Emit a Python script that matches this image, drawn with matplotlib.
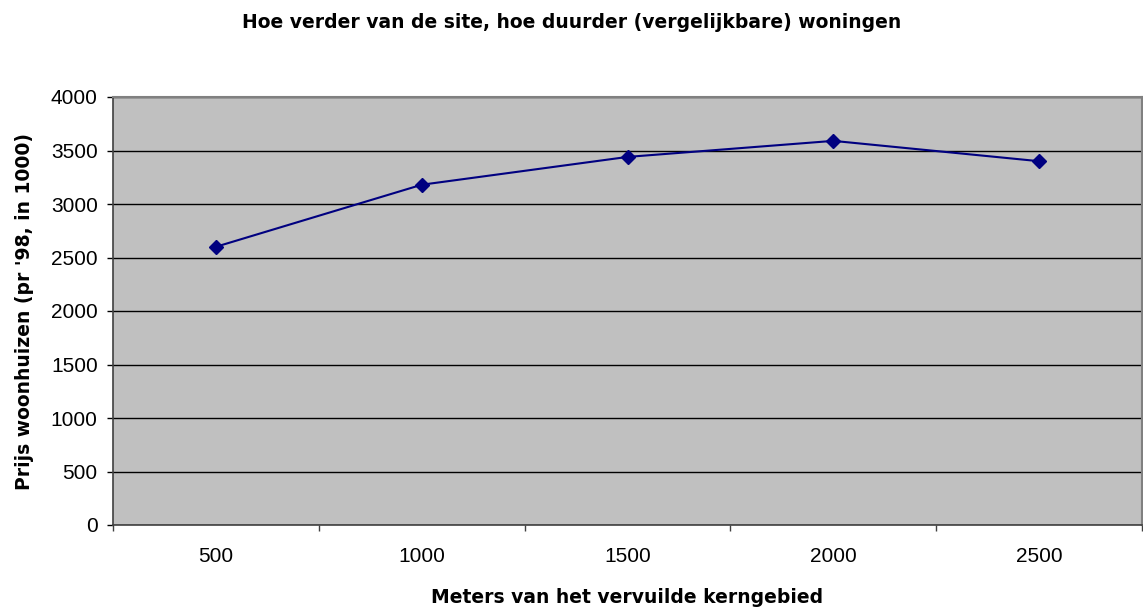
import matplotlib
matplotlib.use("Agg")
from matplotlib import pyplot as plt
from matplotlib.ticker import FixedLocator
import numpy as np

# data
afstand = ["500", "1000", "1500", "2000", "2500"]
prijs = [2600, 3180, 3440, 3590, 3400]
y_ticks = [0, 500, 1000, 1500, 2000, 2500, 3000, 3500, 4000]

plt.rcParams['font.family'] = ['Liberation Sans', 'DejaVu Sans']
bold_font = ['DejaVu Sans']

fig = plt.figure(figsize=(11.43, 6.15), dpi=100)
ax = fig.add_axes([113/1143, 90/615, 1029/1143, 428/615])
ax.set_facecolor('#c0c0c0')

x = np.arange(len(afstand))
ax.plot(x, prijs, color='#000080', linewidth=1.5, marker='D', markersize=7,
        markerfacecolor='#000080', markeredgecolor='#000080', zorder=3)

ax.set_xlim(-0.5, len(afstand) - 0.5)
ax.set_ylim(0, 4000)
ax.set_yticks(y_ticks)
ax.yaxis.grid(True, color='black', linewidth=1)
ax.set_axisbelow(True)

ax.set_xticks(x)
ax.set_xticklabels(afstand)
ax.xaxis.set_minor_locator(FixedLocator(np.arange(-0.5, len(afstand), 1.0)))
ax.tick_params(axis='x', which='major', length=0, pad=16, labelsize=15)
ax.tick_params(axis='x', which='minor', length=4, width=1, color='#404040')
ax.tick_params(axis='y', length=4, width=1, labelsize=15, pad=7)

for side in ['top', 'right']:
    ax.spines[side].set_color('#808080')
    ax.spines[side].set_linewidth(1.5)
for side in ['left', 'bottom']:
    ax.spines[side].set_color('#404040')
    ax.spines[side].set_linewidth(1.2)

ax.set_xlabel("Meters van het vervuilde kerngebied", fontsize=13.5,
              fontweight='bold', family=bold_font, labelpad=16)
ax.set_ylabel("Prijs woonhuizen (pr '98, in 1000)", fontsize=13.5,
              fontweight='bold', family=bold_font, labelpad=12)
fig.text(0.5, 1 - 23/615, "Hoe verder van de site, hoe duurder (vergelijkbare) woningen",
         ha='center', va='center', fontsize=13.5, fontweight='bold', family=bold_font)

plt.savefig("out.png", dpi=100)
